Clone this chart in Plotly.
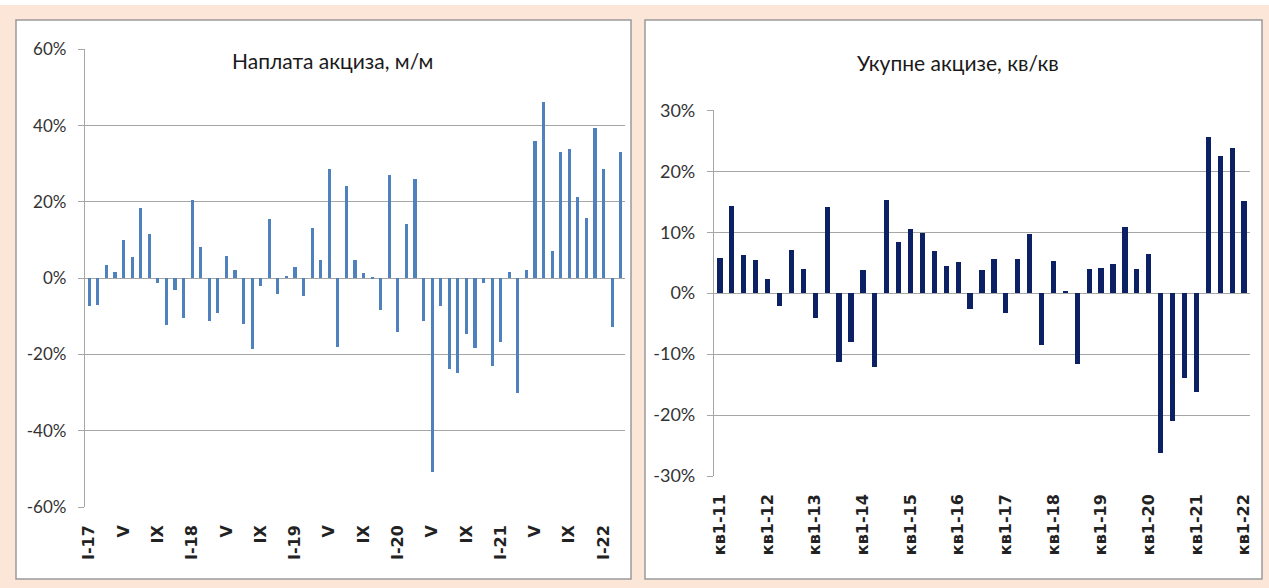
import plotly.graph_objects as go

W, H = 1269, 588

# ---------------- data ----------------
# Left panel: monthly excise collection, m/m change (%), Jan-2017 .. Mar-2022
monthly_tick_labels = ["I-17", "V", "IX", "I-18", "V", "IX", "I-19", "V", "IX",
                       "I-20", "V", "IX", "I-21", "V", "IX", "I-22"]
monthly_mm = [-7.5, -7.1, 3.5, 1.5, 10.0, 5.5, 18.4, 11.4, -1.4, -12.4, -3.1, -10.4,
              20.4, 8.2, -11.4, -9.1, 5.8, 2.1, -12.0, -18.7, -2.1, 15.3, -4.2, 0.6,
              2.9, -4.8, 13.2, 4.6, 28.5, -18.1, 24.1, 4.8, 1.3, -0.2, -8.4, 26.9,
              -14.3, 14.0, 25.8, -11.4, -50.8, -7.5, -23.9, -25.0, -14.8, -18.4, -1.4, -23.0,
              -16.7, 1.5, -30.2, 2.0, 35.9, 46.2, 7.0, 33.1, 33.8, 21.1, 15.6, 39.2,
              28.5, -13.0, 33.1]
left_y_ticks = [-60, -40, -20, 0, 20, 40, 60]
left_y_text = ["-60%", "-40%", "-20%", "0%", "20%", "40%", "60%"]

# Right panel: total excise, q/q change (%), Q1-2011 .. Q1-2022
quarterly_tick_labels = ["кв1-11", "кв1-12", "кв1-13", "кв1-14", "кв1-15", "кв1-16",
                         "кв1-17", "кв1-18", "кв1-19", "кв1-20", "кв1-21", "кв1-22"]
quarterly_qq = [5.8, 14.2, 6.2, 5.4, 2.2, -2.2, 7.0, 3.9, -4.1, 14.1, -11.4, -8.1,
                3.7, -12.2, 15.2, 8.3, 10.4, 9.9, 6.8, 4.4, 5.1, -2.6, 3.7, 5.6,
                -3.3, 5.6, 9.6, -8.5, 5.2, 0.2, -11.6, 3.9, 4.1, 4.7, 10.8, 3.9,
                6.4, -26.2, -21.1, -14.0, -16.3, 25.5, 22.4, 23.8, 15.0]
right_y_ticks = [-30, -20, -10, 0, 10, 20, 30]
right_y_text = ["-30%", "-20%", "-10%", "0%", "10%", "20%", "30%"]

left_title = "Наплата акциза, м/м"
right_title = "Укупне акцизе, кв/кв"
top_text = "Графикон 6. Кретање прихода од акциза и укупне акцизе"

# ---------------- helpers ----------------
def px_x(p):
    return p / W

def px_y(p):
    return 1 - p / H

GRID = "#A6A6A6"
TICKTAN = "#C8AE8C"
LEFT_BAR = "#4F81BD"
RIGHT_BAR = "#0B2163"
PEACH = "#FBE6D8"

nL = len(monthly_mm)
nR = len(quarterly_qq)

left_dom_x = [px_x(85), px_x(625)]
left_dom_y = [px_y(507), px_y(49.3)]
right_dom_x = [px_x(714), px_x(1250)]
right_dom_y = [px_y(476), px_y(110.3)]

fig = go.Figure()
fig.add_trace(go.Bar(x=list(range(nL)), y=monthly_mm, marker_color=LEFT_BAR,
                     marker_line_width=0, width=0.38, xaxis="x", yaxis="y",
                     showlegend=False))
fig.add_trace(go.Bar(x=list(range(nR)), y=quarterly_qq, marker_color=RIGHT_BAR,
                     marker_line_width=0, width=0.44, xaxis="x2", yaxis="y2",
                     showlegend=False))

ylab_font = dict(family="Lato, 'Open Sans', sans-serif", size=17, color="#333333")
xlab_font = dict(family="'DejaVu Sans', sans-serif", size=16, color="#222222",
                 weight="bold")

fig.update_layout(
    width=W, height=H, autosize=False,
    margin=dict(l=0, r=0, t=0, b=0, pad=0, autoexpand=False),
    paper_bgcolor=PEACH, plot_bgcolor="rgba(0,0,0,0)",
    bargap=0,
    xaxis=dict(domain=left_dom_x, range=[-0.5, nL - 0.5], anchor="y",
               tickmode="array", tickvals=list(range(0, nL, 4)),
               ticktext=monthly_tick_labels, tickangle=-90, ticks="",
               showgrid=False, zeroline=False, showline=False, automargin=False,
               tickfont=xlab_font, ticklabelstandoff=14, fixedrange=True),
    yaxis=dict(domain=left_dom_y, range=[-60, 60], anchor="x",
               tickmode="array", tickvals=left_y_ticks, ticktext=left_y_text,
               showgrid=True, gridcolor=GRID, gridwidth=1.3, zeroline=False,
               showline=True, linecolor=GRID, linewidth=1.3, automargin=False,
               ticks="outside", ticklen=6, tickcolor=GRID, tickwidth=1.3,
               tickfont=ylab_font, ticklabelstandoff=8, fixedrange=True),
    xaxis3=dict(overlaying="x", anchor="free",
                position=(left_dom_y[0] + left_dom_y[1]) / 2,
                range=[-0.5, nL - 0.5], tickmode="array",
                tickvals=[k + 0.5 for k in range(nL - 1)],
                ticks="outside", ticklen=5, tickcolor=TICKTAN, tickwidth=1,
                showticklabels=False, showgrid=False, zeroline=False,
                showline=True, linecolor=GRID, linewidth=1.3, fixedrange=True),
    xaxis2=dict(domain=right_dom_x, range=[-0.5, nR - 0.5], anchor="y2",
                tickmode="array", tickvals=list(range(0, nR, 4)),
                ticktext=quarterly_tick_labels, tickangle=-90, ticks="",
                showgrid=False, zeroline=False, showline=False, automargin=False,
                tickfont=xlab_font, ticklabelstandoff=14, fixedrange=True),
    yaxis2=dict(domain=right_dom_y, range=[-30, 30], anchor="x2",
                tickmode="array", tickvals=right_y_ticks, ticktext=right_y_text,
                showgrid=True, gridcolor=GRID, gridwidth=1.3, zeroline=False,
                showline=True, linecolor=GRID, linewidth=1.3, automargin=False,
                ticks="outside", ticklen=6, tickcolor=GRID, tickwidth=1.3,
                tickfont=dict(ylab_font, size=18), ticklabelstandoff=8,
                fixedrange=True),
    xaxis4=dict(overlaying="x2", anchor="free",
                position=(right_dom_y[0] + right_dom_y[1]) / 2,
                range=[-0.5, nR - 0.5], tickmode="array",
                tickvals=[k + 0.5 for k in range(nR)],
                ticks="outside", ticklen=5, tickcolor=TICKTAN, tickwidth=1,
                showticklabels=False, showgrid=False, zeroline=False,
                showline=True, linecolor=GRID, linewidth=1.3, fixedrange=True),
)

# panels and top strip
fig.add_shape(type="rect", xref="paper", yref="paper", layer="below",
              x0=0, x1=1, y0=px_y(5), y1=1, fillcolor="white", line_width=0)
for x0, x1 in [(16, 631), (645, 1262)]:
    fig.add_shape(type="rect", xref="paper", yref="paper", layer="below",
                  x0=px_x(x0), x1=px_x(x1), y0=px_y(579), y1=px_y(20),
                  fillcolor="white", line=dict(color="#9A9A9A", width=1.5))

# titles
title_font = dict(family="Lato, 'Open Sans', sans-serif", size=21, color="#1A1A1A")
fig.add_annotation(text=left_title, xref="paper", yref="paper", x=px_x(332), y=px_y(61),
                   xanchor="center", yanchor="middle", showarrow=False, font=title_font)
fig.add_annotation(text=right_title, xref="paper", yref="paper", x=px_x(958), y=px_y(63),
                   xanchor="center", yanchor="middle", showarrow=False, font=title_font)
# heading at the very top, cut off by the top edge as in the source image
fig.add_annotation(text=top_text, xref="paper", yref="paper", x=px_x(665), y=px_y(2),
                   xanchor="center", yanchor="bottom", showarrow=False,
                   font=dict(family="Lato, sans-serif", size=21, color="#111111"))

fig.write_html("out.html", config={"displayModeBar": False},
               post_script="document.body.style.margin='0';"
                           "document.body.style.overflow='hidden';")
